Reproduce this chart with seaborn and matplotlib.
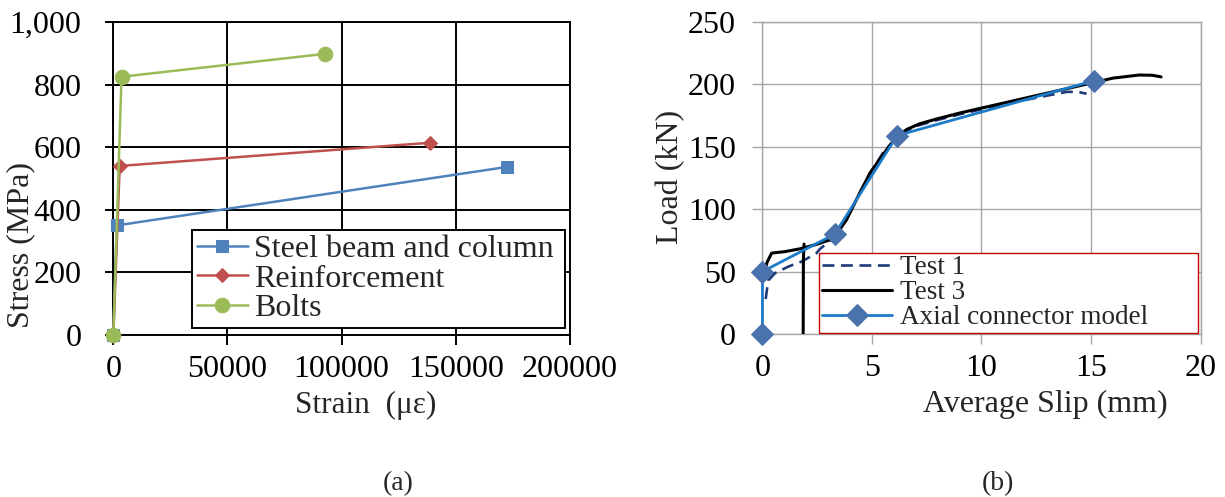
import numpy as np
import pandas as pd
import matplotlib
matplotlib.use("Agg")
import matplotlib.pyplot as plt
from matplotlib.ticker import FuncFormatter
import seaborn as sns

# ---------------- data: panel (a) ----------------
steel_strain = [0, 1500, 172500]
steel_stress = [0, 350, 537]
reinf_strain = [0, 2800, 138500]
reinf_stress = [0, 540, 614]
bolts_strain = [0, 3600, 92500]
bolts_stress = [0, 825, 898]
a_xticks = [0, 50000, 100000, 150000, 200000]
a_yticks = [0, 200, 400, 600, 800, 1000]

# ---------------- data: panel (b) ----------------
test1_slip = [0.15, 0.2, 0.27, 0.57, 1.18, 1.79, 2.47, 2.62, 3.1, 3.5, 4.0, 4.5, 5.0, 5.5,
              6.0, 6.5, 7.0, 8.0, 9.0, 10.0, 11.0, 12.0, 13.0, 13.9, 14.4, 14.8]
test1_load = [28, 35, 43, 48.7, 54, 58, 64.8, 68, 75, 84, 98, 115, 131, 145,
              155, 162, 166.5, 171.5, 176, 180, 184, 187.5, 191, 194, 194, 192.5]
test3_slip = [0.05, 0.15, 0.2, 0.42, 1.03, 1.79, 2.5, 3.08, 3.5, 3.84, 4.3, 4.91, 5.67, 6.13,
              6.6, 7.19, 8.0, 9.0, 10.0, 11.0, 12.0, 13.0, 14.0, 15.0, 16.0, 17.2, 17.8, 18.2]
test3_load = [45, 51, 57, 64.8, 66, 68.5, 72, 75.5, 83, 91.5, 108, 129, 147.7, 158,
              164, 168.5, 172.5, 177, 181, 185, 189, 193, 197, 201, 205, 207.5, 207.3, 206]
test3_drop_slip = [1.86, 1.87, 1.9]
test3_drop_load = [0, 60, 72]
model_slip = [0, 0, 3.3, 6.15, 15.15]
model_load = [0, 50, 80, 159, 203]
b_xticks = [0, 5, 10, 15, 20]
b_yticks = [0, 50, 100, 150, 200, 250]

sns.set_theme(style="white")
plt.rcParams['font.family'] = ['Liberation Serif', 'DejaVu Serif']

FS = 23
fig = plt.figure(figsize=(12.25, 4.97), dpi=100)
ax1 = fig.add_axes([0.0925, 0.326, 0.3728, 0.6298])
ax2 = fig.add_axes([0.6224, 0.328, 0.3576, 0.6278])

# ---------------- panel (a) ----------------
series_a = [
    ("Steel beam and column", steel_strain, steel_stress, "#4F81BD", "s", 8),
    ("Reinforcement", reinf_strain, reinf_stress, "#C0504D", "D", 7.5),
    ("Bolts", bolts_strain, bolts_stress, "#9BBB59", "o", 10.5),
]
for name, xs, ys, col, mk, ms in series_a:
    df = pd.DataFrame({"strain": xs, "stress": ys})
    sns.lineplot(data=df, x="strain", y="stress", ax=ax1, color=col, lw=1.8,
                 marker=mk, ms=ms, mec=col, mfc=col, sort=False, estimator=None,
                 label=name, clip_on=False, zorder=3)

ax1.set_xlim(0, 200000)
ax1.set_ylim(0, 1000)
ax1.set_xticks(a_xticks)
ax1.set_yticks(a_yticks)
ax1.yaxis.set_major_formatter(FuncFormatter(lambda v, p: f"{int(v):,}"))
ax1.xaxis.set_major_formatter(FuncFormatter(lambda v, p: f"{int(v)}"))
ax1.grid(True, color="black", lw=1.4)
for s in ax1.spines.values():
    s.set_color("black")
    s.set_linewidth(1.4)
ax1.tick_params(axis="both", labelsize=FS, colors="black", width=1.4,
                direction="out", left=True, bottom=True)
ax1.tick_params(axis="y", length=6, pad=17)
ax1.tick_params(axis="x", length=7.2, pad=7)
ax1.set_xlabel("Strain  (με)", fontsize=22.5, va="top")
ax1.xaxis.set_label_coords(0.552, -0.178)
ax1.set_ylabel("Stress (MPa)", fontsize=FS, va="center")
ax1.yaxis.set_label_coords(-0.202, 0.286)
leg1 = ax1.legend(loc="upper left", bbox_to_anchor=(0.172, 0.019, 0.817, 0.316),
                  mode="expand", borderaxespad=0, fontsize=FS, frameon=True,
                  fancybox=False, framealpha=1, edgecolor="black",
                  handlelength=1.6, handletextpad=0.2, labelspacing=0.0,
                  borderpad=0.15)
leg1.get_frame().set_linewidth(1.4)

# ---------------- panel (b) ----------------
t1 = pd.DataFrame({"slip": test1_slip, "load": test1_load})
t3 = pd.DataFrame({"slip": test3_slip, "load": test3_load})
t3d = pd.DataFrame({"slip": test3_drop_slip, "load": test3_drop_load})
md = pd.DataFrame({"slip": model_slip, "load": model_load})

sns.lineplot(data=t1, x="slip", y="load", ax=ax2, color="#1F3A78", lw=1.9,
             dashes=False, sort=False, estimator=None, label="Test 1", zorder=3)
ax2.get_lines()[-1].set_dashes([4.5, 2.5])
sns.lineplot(data=t3, x="slip", y="load", ax=ax2, color="black", lw=2.2,
             sort=False, estimator=None, label="Test 3", zorder=3)
sns.lineplot(data=t3d, x="slip", y="load", ax=ax2, color="black", lw=2.2,
             sort=False, estimator=None, label="_nolegend_", zorder=3)
sns.lineplot(data=md, x="slip", y="load", ax=ax2, color="#1C7CC9", lw=2.0,
             marker="D", ms=11, mfc="#4A72AC", mec="#4A72AC", sort=False,
             estimator=None, label="Axial connector model", clip_on=False, zorder=4)

ax2.set_xlim(0, 20)
ax2.set_ylim(0, 250)
ax2.set_xticks(b_xticks)
ax2.set_yticks(b_yticks)
ax2.grid(True, color="#A6A6A6", lw=1.0)
for s in ax2.spines.values():
    s.set_color("#A6A6A6")
    s.set_linewidth(1.0)
ax2.tick_params(axis="both", labelsize=FS, colors="#A6A6A6", labelcolor="black",
                length=7.2, width=1.0, direction="out", left=True, bottom=True)
ax2.tick_params(axis="y", pad=12)
ax2.tick_params(axis="x", pad=7)
ax2.set_xlabel("Average Slip (mm)", fontsize=FS, va="top")
ax2.xaxis.set_label_coords(0.645, -0.18)
ax2.set_ylabel("Load (kN)", fontsize=FS, va="center")
ax2.yaxis.set_label_coords(-0.209, 0.504)
leg2 = ax2.legend(loc="lower left", bbox_to_anchor=(0.129, 0.003, 0.865, 0.279),
                  mode="expand", borderaxespad=0, fontsize=19.5, frameon=True,
                  fancybox=False, framealpha=1, edgecolor="#C00000",
                  handlelength=2.6, handletextpad=0.3, labelspacing=0.0,
                  borderpad=0.1)
leg2.get_frame().set_linewidth(1.0)

fig.text(398 / 1225, 1 - 484 / 497, "(a)", ha="center", va="center", fontsize=20)
fig.text(998 / 1225, 1 - 484 / 497, "(b)", ha="center", va="center", fontsize=20)

fig.savefig("out.png", dpi=100, facecolor="white")
